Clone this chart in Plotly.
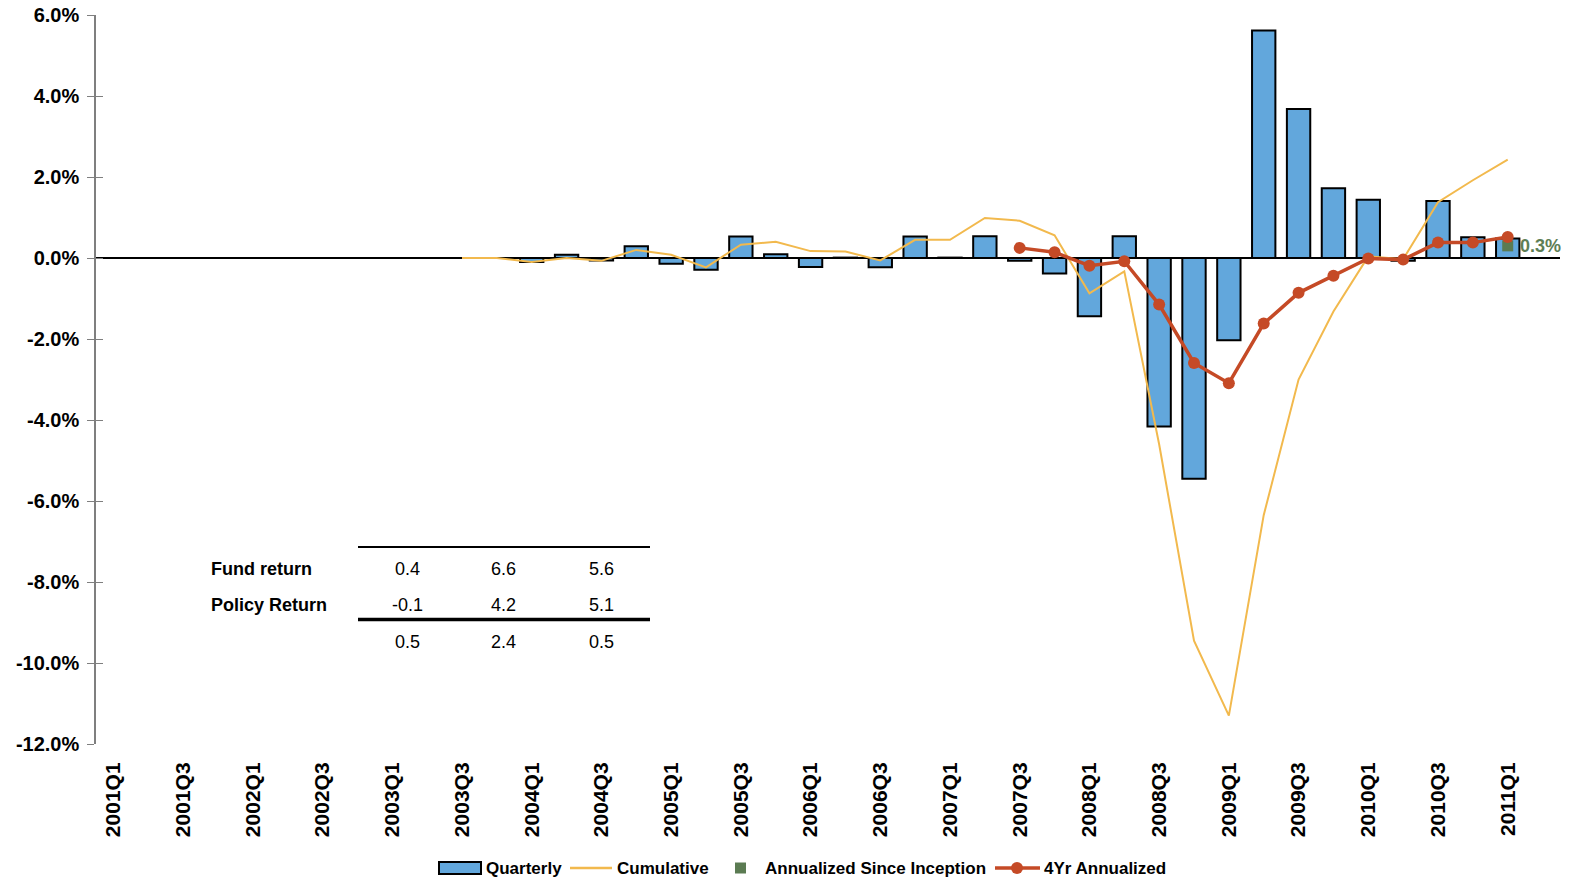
import plotly.graph_objects as go

# Quarter categories 2001Q1 .. 2011Q2
quarters = [f"{y}Q{q}" for y in range(2001, 2012) for q in range(1, 5)][:42]
tick_labels = quarters[::2]

# Value axis ticks (percent)
y_ticks = [6, 4, 2, 0, -2, -4, -6, -8, -10, -12]
y_tick_text = [f"{v:.1f}%" for v in y_ticks]

# Series values (percent), starting at 2003Q3
start_q = "2003Q3"
quarterly = [None, None, -0.10, 0.08, -0.06, 0.29, -0.14, -0.29, 0.53, 0.09,
             -0.22, 0.01, -0.23, 0.53, 0.01, 0.54, -0.07, -0.38, -1.44, 0.54,
             -4.16, -5.45, -2.03, 5.62, 3.68, 1.72, 1.44, -0.07, 1.41, 0.51, 0.48]
cumulative = [0.0, 0.0, -0.10, 0.0, -0.07, 0.20, 0.08, -0.23, 0.33, 0.40,
              0.17, 0.16, -0.06, 0.45, 0.45, 0.99, 0.92, 0.56, -0.87, -0.33,
              -4.6, -9.45, -11.3, -6.35, -3.0, -1.32, 0.04, -0.03, 1.38, 1.92, 2.43]
annual_4yr_start = "2007Q3"
annual_4yr = [0.25, 0.14, -0.19, -0.08, -1.15, -2.59, -3.09, -1.62, -0.86,
              -0.44, -0.01, -0.04, 0.38, 0.38, 0.52]
since_inception_q = "2011Q1"
since_inception = 0.3

# Summary table
table_rows = ["Fund return", "Policy Return", ""]
table_values = [["0.4", "6.6", "5.6"],
                ["-0.1", "4.2", "5.1"],
                ["0.5", "2.4", "0.5"]]

series_names = ["Quarterly", "Cumulative", "Annualized Since Inception", "4Yr Annualized"]

i0 = quarters.index(start_q)
x_main = quarters[i0:i0 + len(quarterly)]
i4 = quarters.index(annual_4yr_start)
x_4yr = quarters[i4:i4 + len(annual_4yr)]

FONT = "Arial, Liberation Sans, sans-serif"
BLUE = "#62a7dc"
GOLD = "#f2b94d"
RUST = "#c54a26"
GREEN = "#5b7b52"

fig = go.Figure()
fig.add_trace(go.Bar(
    x=x_main, y=quarterly, name=series_names[0],
    marker=dict(color=BLUE, line=dict(color="black", width=2)),
))
fig.add_trace(go.Scatter(
    x=x_main, y=cumulative, name=series_names[1], mode="lines",
    line=dict(color=GOLD, width=2),
))
fig.add_trace(go.Scatter(
    x=[since_inception_q], y=[since_inception], name=series_names[2],
    mode="markers", marker=dict(symbol="square", size=11, color=GREEN),
    cliponaxis=False,
))
fig.add_trace(go.Scatter(
    x=x_4yr, y=annual_4yr, name=series_names[3], mode="lines+markers",
    line=dict(color=RUST, width=3.5), marker=dict(size=12, color=RUST),
))
# carrier for the second (cross-tick) y axis
fig.add_trace(go.Scatter(x=[], y=[], yaxis="y2", showlegend=False, hoverinfo="skip"))

L, R, T, B = 96, 14, 15, 137
W, H = 1574, 881
pw, ph = W - L - R, H - T - B


def px(x):
    return (x - L) / pw


def py(y):
    return (H - B - y) / ph


annotations = [dict(
    x=since_inception_q, y=since_inception, xref="x", yref="y",
    text=f"{since_inception:.1f}%", showarrow=False, xanchor="left",
    yanchor="middle", xshift=10,
    font=dict(family=FONT, size=18, color="#5e7e55", weight="bold"),
)]
row_y = [569, 605, 642]
col_x = [407, 504, 601]
for r, label in enumerate(table_rows):
    if label:
        annotations.append(dict(
            x=px(209), y=py(row_y[r]), xref="paper", yref="paper",
            text=label, showarrow=False, xanchor="left", yanchor="middle",
            font=dict(family=FONT, size=18, color="black", weight="bold"),
        ))
    for c, v in enumerate(table_values[r]):
        annotations.append(dict(
            x=px(col_x[c]), y=py(row_y[r]), xref="paper", yref="paper",
            text=v, showarrow=False, xanchor="center", yanchor="middle",
            font=dict(family=FONT, size=18, color="black"),
        ))

shapes = [
    dict(type="line", xref="paper", yref="paper", x0=px(358), x1=px(650),
         y0=py(547), y1=py(547), line=dict(color="black", width=2)),
    dict(type="line", xref="paper", yref="paper", x0=px(358), x1=px(650),
         y0=py(619.5), y1=py(619.5), line=dict(color="black", width=3.5)),
]

# Legend row drawn beneath the axis labels
LEG_Y = 868
legend_text_x = [484, 615, 763, 1042]
shapes += [
    dict(type="rect", xref="paper", yref="paper", x0=px(439), x1=px(481),
         y0=py(LEG_Y - 6), y1=py(LEG_Y + 6), fillcolor=BLUE,
         line=dict(color="black", width=2)),
    dict(type="line", xref="paper", yref="paper", x0=px(570), x1=px(612),
         y0=py(LEG_Y), y1=py(LEG_Y), line=dict(color=GOLD, width=2.5)),
    dict(type="rect", xref="paper", yref="paper", x0=px(735), x1=px(746),
         y0=py(LEG_Y - 5.5), y1=py(LEG_Y + 5.5), fillcolor=GREEN,
         line=dict(width=0)),
    dict(type="line", xref="paper", yref="paper", x0=px(995), x1=px(1040),
         y0=py(LEG_Y), y1=py(LEG_Y), line=dict(color=RUST, width=3.5)),
    dict(type="circle", xref="paper", yref="paper", x0=px(1011), x1=px(1023),
         y0=py(LEG_Y - 6), y1=py(LEG_Y + 6), fillcolor=RUST,
         line=dict(width=0)),
]
for name, tx in zip(series_names, legend_text_x):
    annotations.append(dict(
        x=px(tx), y=py(LEG_Y), xref="paper", yref="paper", text=name,
        showarrow=False, xanchor="left", yanchor="middle",
        font=dict(family=FONT, size=17, color="black", weight="bold"),
    ))

fig.update_layout(
    width=W, height=H,
    margin=dict(l=L, r=R, t=T, b=B, pad=0, autoexpand=False),
    paper_bgcolor="white", plot_bgcolor="white",
    bargap=0.33,
    font=dict(family=FONT, color="black"),
    showlegend=False,
    xaxis=dict(
        type="category", categoryorder="array", categoryarray=quarters,
        range=[-0.5, len(quarters) - 0.5],
        tickmode="array", tickvals=tick_labels, ticktext=tick_labels,
        tickangle=-90, ticks="outside", ticklen=9, tickcolor="rgba(0,0,0,0)",
        tickfont=dict(family=FONT, size=21, weight="bold"),
        showline=False, showgrid=False, zeroline=False, automargin=False,
    ),
    yaxis=dict(
        range=[-12, 6], tickmode="array", tickvals=y_ticks, ticktext=y_tick_text,
        ticks="outside", ticklen=7, tickwidth=1.3, tickcolor="#7f7f7f",
        showline=True, linecolor="#7f7f7f", linewidth=1.5,
        showgrid=False, zeroline=True, zerolinecolor="black", zerolinewidth=1.5,
        tickfont=dict(family=FONT, size=20, weight="bold"),
        ticklabelstandoff=4, automargin=False,
    ),
    yaxis2=dict(
        overlaying="y", anchor="x", side="left", range=[-12, 6],
        tickmode="array", tickvals=y_ticks,
        ticks="inside", ticklen=7, tickwidth=1.3, tickcolor="#7f7f7f",
        showticklabels=False, showline=False, showgrid=False, zeroline=False,
    ),
    annotations=annotations,
    shapes=shapes,
)

fig.write_html("out.html")
